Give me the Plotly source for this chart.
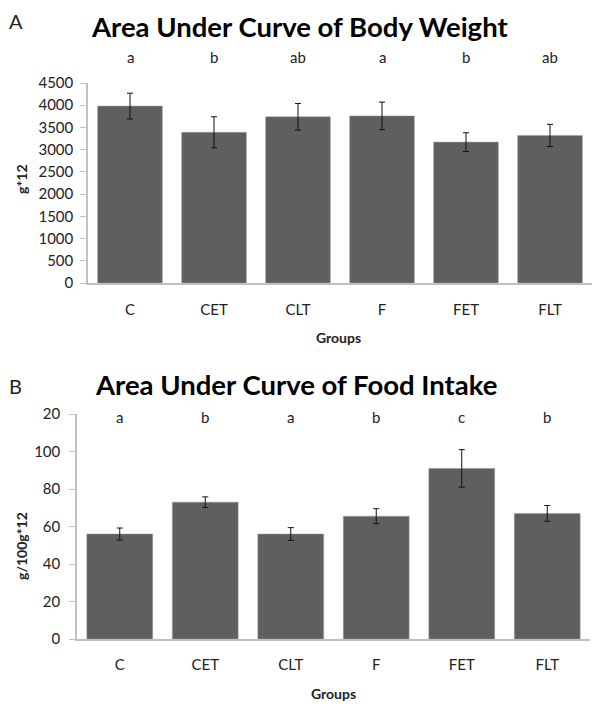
import plotly.graph_objects as go

groups = ["C", "CET", "CLT", "F", "FET", "FLT"]

bw_auc = [3980, 3390, 3740, 3760, 3170, 3320]
bw_err = [290, 350, 300, 310, 210, 250]
bw_letters = ["a", "b", "ab", "a", "b", "ab"]

fi_auc = [56, 73, 56, 65.5, 91, 67]
fi_err = [3.2, 2.8, 3.4, 4.0, 10.0, 4.2]
fi_letters = ["a", "b", "a", "b", "c", "b"]

bw_ticks = [0, 500, 1000, 1500, 2000, 2500, 3000, 3500, 4000, 4500]
fi_ticks = [0, 20, 40, 60, 80, 100, 120]
fi_ticktext = ["0", "20", "40", "60", "80", "100", "20"]

FONT = "Lato"
BAR = "#5f5f5f"
AXIS = "#c0c0c0"
TXT = "#222222"

# the page body adds an 8px margin, so the figure is drawn 8px in from the window edge
OFF = 8
W = 600 - OFF
H = 719 - OFF

def py(p):
    return 1 - (p - OFF) / H

def px(p):
    return (p - OFF) / W

fig = go.Figure()
fig.add_trace(go.Bar(
    x=groups, y=bw_auc, xaxis="x", yaxis="y",
    marker=dict(color=BAR, line=dict(color="#9a9a9a", width=0.5)),
    error_y=dict(type="data", array=bw_err, color="#111111", thickness=1, width=3),
    showlegend=False,
))
fig.add_trace(go.Bar(
    x=groups, y=fi_auc, xaxis="x2", yaxis="y2",
    marker=dict(color=BAR, line=dict(color="#9a9a9a", width=0.5)),
    error_y=dict(type="data", array=fi_err, color="#111111", thickness=1, width=3),
    showlegend=False,
))

tickfont = dict(family=FONT, size=15, color=TXT)
axis_common = dict(showline=True, linecolor=AXIS, linewidth=1.5, showgrid=False,
                   zeroline=False, tickfont=tickfont, automargin=False)

fig.update_layout(
    width=W, height=H,
    margin=dict(l=0, r=0, t=0, b=0),
    paper_bgcolor="white", plot_bgcolor="white",
    bargap=0.23,
    font=dict(family=FONT, color=TXT),
    xaxis=dict(domain=[px(88), px(592)], anchor="y", ticks="", ticklabelstandoff=12,
               **axis_common),
    yaxis=dict(domain=[py(283), py(83)], anchor="x", range=[0, 4500],
               tickvals=bw_ticks, ticks="outside", ticklen=6, tickcolor=AXIS,
               ticklabelstandoff=4, **axis_common),
    xaxis2=dict(domain=[px(77), px(590)], anchor="y2", ticks="", ticklabelstandoff=11,
                **axis_common),
    yaxis2=dict(domain=[py(639), py(414)], anchor="x2", range=[0, 120],
                tickvals=fi_ticks, ticktext=fi_ticktext, ticks="outside", ticklen=6, tickcolor=AXIS,
                ticklabelstandoff=6, **axis_common),
)

ann = []
def add(x, y, text, size, color=TXT, angle=0, xref="paper", xanchor="center", yanchor="middle"):
    ann.append(dict(x=x, xref=xref, y=y, yref="paper", text=text, showarrow=False,
                    xanchor=xanchor, yanchor=yanchor, textangle=angle, borderpad=0,
                    font=dict(family=FONT, size=size, color=color)))

for g, l in zip(groups, bw_letters):
    add(g, py(57), l, 15, xref="x")
for g, l in zip(groups, fi_letters):
    add(g, py(417), l, 15, xref="x2")

add(px(299), py(26), "<b>Area Under Curve of Body Weight</b>", 27.5, "#000")
add(px(296), py(384), "<b>Area Under Curve of Food Intake</b>", 27.5, "#000")
add(0, 1, "A", 20, "#222", xanchor="left", yanchor="top")
add(0, py(386), "B", 20, "#222", xanchor="left")
add(px(338), py(337), "<b>Groups</b>", 14)
add(px(333), py(693), "<b>Groups</b>", 14)
add(px(22), py(179), "<b>g*12</b>", 14, angle=-90)
add(px(21), py(546), "<b>g/100g*12</b>", 14, angle=-90)

fig.update_layout(annotations=ann)

fig.write_html("out.html")
